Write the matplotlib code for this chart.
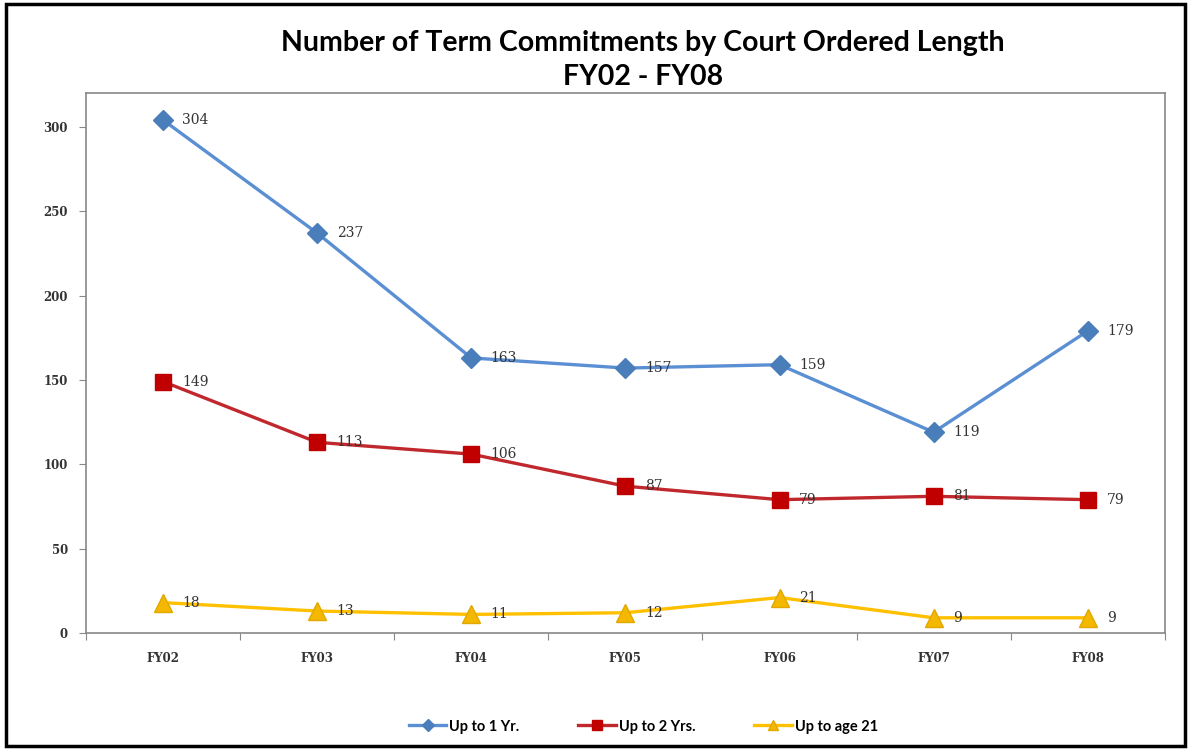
import matplotlib

matplotlib.use("Agg")
import matplotlib.pyplot as plt
from matplotlib.patches import Rectangle

years = ["FY02", "FY03", "FY04", "FY05", "FY06", "FY07", "FY08"]
up_to_1yr = [304, 237, 163, 157, 159, 119, 179]
up_to_2yrs = [149, 113, 106, 87, 79, 81, 79]
up_to_age21 = [18, 13, 11, 12, 21, 9, 9]
series_names = ["Up to 1 Yr.", "Up to 2 Yrs.", "Up to age 21"]
y_ticks = [0, 50, 100, 150, 200, 250, 300]

styles = [
    dict(color="#5B8FD3", marker="D", mfc="#4A7EBB", mec="#4A7EBB", ms=10),
    dict(color="#C0282D", marker="s", mfc="#C00000", mec="#C00000", ms=11),
    dict(color="#FFC000", marker="^", mfc="#F5B800", mec="#E0A800", ms=13),
]

fig = plt.figure(figsize=(11.91, 7.49), dpi=100)
ax = fig.add_axes([0.0722, 0.1549, 0.9058, 0.7209])

x = range(len(years))
lines = []
for vals, name, st in zip([up_to_1yr, up_to_2yrs, up_to_age21], series_names, styles):
    ln, = ax.plot(x, vals, lw=2.4, label=name, zorder=3, **st)
    lines.append(ln)
    for xi, v in zip(x, vals):
        ax.annotate(str(v), (xi, v), xytext=(14, 0), textcoords="offset points",
                    va="center", ha="left", fontsize=10, family="DejaVu Serif",
                    color="#333333", zorder=4)

ax.set_xlim(-0.5, len(years) - 0.5)
ax.set_ylim(0, 320)
ax.set_yticks(y_ticks)
ax.set_yticklabels([str(t) for t in y_ticks], family="DejaVu Serif", fontsize=8.5,
                   fontweight="bold", color="#333333")
# category boundaries get the tick marks, labels sit between them
ax.set_xticks([i + 0.5 for i in range(-1, len(years))], minor=False)
ax.set_xticklabels([])
ax.set_xticks(list(x), minor=True)
ax.set_xticklabels(years, minor=True, family="DejaVu Serif", fontsize=8.5,
                   fontweight="bold", color="#333333")
ax.tick_params(axis="x", which="minor", length=0, pad=14)
ax.tick_params(axis="x", which="major", length=5, color="#888888", direction="out")
ax.tick_params(axis="y", length=5, color="#888888", pad=8)
for s in ax.spines.values():
    s.set_color("#888888")
    s.set_linewidth(1.2)

fig.text(0.54, 0.943, "Number of Term Commitments by Court Ordered Length",
         ha="center", va="center", fontsize=20.5, fontweight="bold", family="Lato")
fig.text(0.54, 0.897, "FY02 - FY08", ha="center", va="center", fontsize=20.5,
         fontweight="bold", family="Lato")

fig.legend(handles=lines, loc="center", bbox_to_anchor=(0.54, 0.03), ncol=3,
           frameon=False, handlelength=2.6, columnspacing=4,
           handletextpad=0.2, prop={"family": "Lato", "size": 10.5, "weight": "bold"},
           markerscale=0.6)

fig.patches.append(Rectangle((0.005, 0.004), 0.99, 0.99, transform=fig.transFigure,
                             fill=False, ec="black", lw=2.5))

fig.savefig("out.png", dpi=100)
